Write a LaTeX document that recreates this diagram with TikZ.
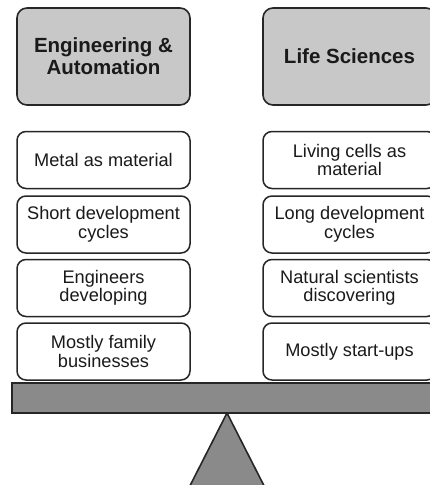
\documentclass[tikz,border=0pt]{standalone}
\usepackage{fontspec}
\setmainfont{Liberation Sans}
\definecolor{hdrfill}{HTML}{C8C8C8}
\definecolor{basefill}{HTML}{8A8A8A}
\definecolor{txt}{HTML}{1A1A1A}
\begin{document}
\begin{tikzpicture}[x=1pt,y=-1pt,
  hdr/.style={draw=black!85,line width=1.6pt,fill=hdrfill,rounded corners=10pt,
    minimum width=173pt,minimum height=97pt,align=center,inner sep=0pt,
    font=\fontsize{20.5}{22}\selectfont\bfseries,text=txt},
  item/.style={draw=black!85,line width=1.5pt,fill=white,rounded corners=9pt,
    minimum width=173pt,minimum height=57pt,align=center,inner sep=0pt,
    font=\fontsize{18.2}{18.5}\selectfont,text=txt},
  part/.style={draw=black!85,line width=1.6pt,fill=basefill}]
\useasboundingbox (0,0) rectangle (430,485);
\clip (0,0) rectangle (430,485);
% headers
\node[hdr] (hl) at (103.5,56.5) {Engineering \&\\Automation};
\node[hdr] (hr) at (349.5,56.5) {Life Sciences};
% left items
\node[item] (l1) at (103.5,160) {Metal as material};
\node[item] (l2) at (103.5,224.5) {Short development\\cycles};
\node[item] (l3) at (103.5,288) {Engineers\\developing};
\node[item] (l4) at (103.5,351.5) {Mostly family\\businesses};
% right items
\node[item] (r1) at (349.5,160) {Living cells as\\material};
\node[item] (r2) at (349.5,224.5) {Long development\\cycles};
\node[item] (r3) at (349.5,288) {Natural scientists\\discovering};
\node[item] (r4) at (349.5,351.5) {Mostly start-ups};
% seesaw
\draw[part] (227,413) -- (170,525) -- (284,525) -- cycle;
\draw[part] (12,383) rectangle (445,413);
\end{tikzpicture}
\end{document}
